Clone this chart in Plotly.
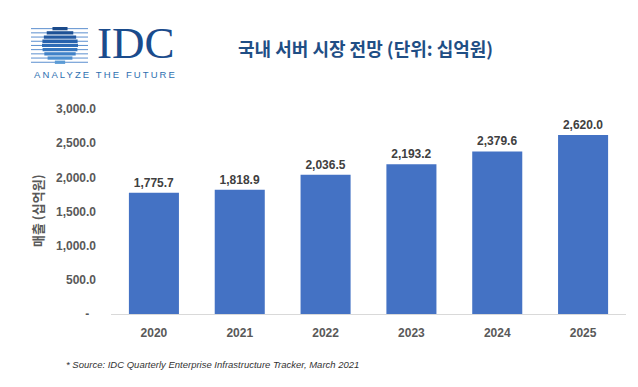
import math
import plotly.graph_objects as go

years = ["2020", "2021", "2022", "2023", "2024", "2025"]
values = [1775.7, 1818.9, 2036.5, 2193.2, 2379.6, 2620.0]
tick_vals = [0, 500, 1000, 1500, 2000, 2500, 3000]
tick_text = ["-\u00a0\u00a0", "500.0", "1,000.0", "1,500.0", "2,000.0", "2,500.0", "3,000.0"]
title_text = "국내 서버 시장 전망 (단위: 십억원)"
ytitle_text = "매출 (십억원)"
source_text = "* Source: IDC Quarterly Enterprise Infrastructure Tracker, March 2021"

W, H = 638, 387
ML, MR, MT, MB = 111, 12, 109, 73
PW, PH = W - ML - MR, H - MT - MB


def px(x):
    return (x - ML) / PW


def py(y):
    return (H - MB - y) / PH


fig = go.Figure()
fig.add_trace(go.Bar(
    x=years, y=values,
    marker=dict(color="#4472C4", line=dict(width=0)),
    text=[f"{v:,.1f}" for v in values],
    textposition="outside",
    textfont=dict(family="Liberation Sans", size=12, color="#404040"),
    texttemplate="<b>%{text}</b>",
    cliponaxis=False,
    hoverinfo="skip",
))

shapes = []
# IDC logo globe (decoration)
cx, cy, r = 60, 45, 18
band_colors = ["#1b4a8a", "#1f5296", "#235aa2", "#2862ad", "#2e6bb6",
               "#3676bf", "#4182c8", "#4d8fd0", "#5b9bd5"]
for k in range(9):
    yt = 27 + 4.2 * k
    yb = yt + 3.3
    ym = (yt + yb) / 2
    d = ym - cy
    shapes.append(dict(type="line", xref="paper", yref="paper",
                       x0=px(31), x1=px(88), y0=py(ym), y1=py(ym),
                       line=dict(color="#5b8fcf", width=1)))
    if abs(d) < r:
        hw = math.sqrt(r * r - d * d)
        shapes.append(dict(type="rect", xref="paper", yref="paper",
                           x0=px(cx - hw), x1=px(cx + hw), y0=py(yb), y1=py(yt),
                           fillcolor=band_colors[k], line=dict(width=0)))

annotations = [
    dict(text="<b>" + title_text + "</b>", x=px(365), y=py(48), xref="paper", yref="paper",
         showarrow=False, xanchor="center", yanchor="middle",
         font=dict(family="Noto Sans CJK KR", size=18, color="#1F4E85")),
    dict(text="IDC", x=px(95), y=py(43), xref="paper", yref="paper",
         showarrow=False, xanchor="left", yanchor="middle",
         font=dict(family="Liberation Serif", size=45, color="#1a4b8c")),
    dict(text='<span style="letter-spacing:2.1px">ANALYZE THE FUTURE</span>',
         x=px(32), y=py(74), xref="paper", yref="paper",
         showarrow=False, xanchor="left", yanchor="middle",
         font=dict(family="Liberation Sans", size=9.5, color="#2e6fb0")),
    dict(text="<b>" + ytitle_text + "</b>", x=px(37), y=py(211), xref="paper", yref="paper",
         showarrow=False, xanchor="center", yanchor="middle", textangle=-90,
         font=dict(family="Noto Sans CJK KR", size=13, color="#595959")),
    dict(text="<i>" + source_text + "</i>", x=px(64), y=py(364), xref="paper", yref="paper",
         showarrow=False, xanchor="left", yanchor="middle",
         font=dict(family="Liberation Sans", size=9.5, color="#333333")),
]

fig.update_layout(
    width=W, height=H,
    margin=dict(l=ML, r=MR, t=MT, b=MB, pad=0),
    paper_bgcolor="white", plot_bgcolor="white",
    showlegend=False,
    bargap=0.417,
    shapes=shapes,
    annotations=annotations,
    xaxis=dict(
        type="category",
        showline=True, linecolor="#d9d9d9", linewidth=1,
        showgrid=False, zeroline=False, ticks="",
        tickfont=dict(family="Liberation Sans", size=12, color="#595959"),
        tickprefix="<b>", ticksuffix="</b>",
        ticklabelstandoff=8,
    ),
    yaxis=dict(
        range=[0, 3000],
        tickvals=tick_vals, ticktext=["<b>" + t + "</b>" for t in tick_text],
        showgrid=False, zeroline=False, showline=False, ticks="",
        tickfont=dict(family="Liberation Sans", size=12, color="#595959"),
        ticklabelstandoff=14,
    ),
)

fig.write_html("out.html", config={"displayModeBar": False},
               post_script="document.body.style.margin='0';document.body.style.overflow='hidden';")
